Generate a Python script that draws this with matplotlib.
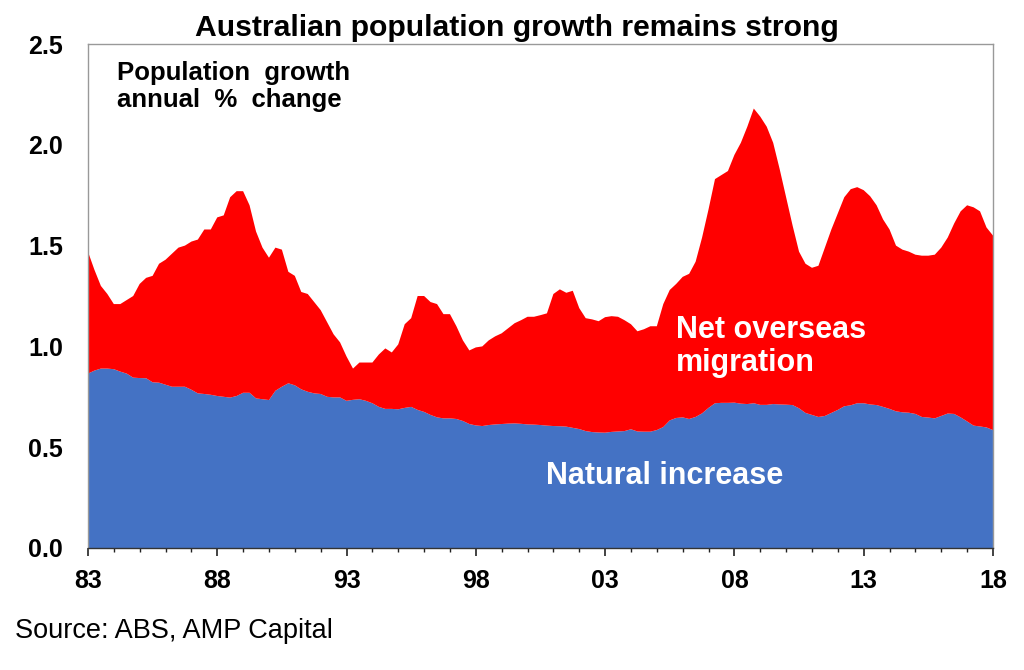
import numpy as np
import matplotlib
matplotlib.use("Agg")
import matplotlib.pyplot as plt
from matplotlib.ticker import MultipleLocator

plt.rcParams['font.family'] = ['Liberation Sans', 'DejaVu Sans']

# Quarterly data, 1983 Q1 to 2018 Q1, one row per year
total_growth = [
    1.47, 1.38, 1.30, 1.26,    # 83
    1.21, 1.21, 1.23, 1.25,    # 84
    1.31, 1.34, 1.35, 1.41,    # 85
    1.43, 1.46, 1.49, 1.50,    # 86
    1.52, 1.53, 1.58, 1.58,    # 87
    1.64, 1.65, 1.74, 1.77,    # 88
    1.77, 1.70, 1.57, 1.49,    # 89
    1.44, 1.49, 1.48, 1.37,    # 90
    1.35, 1.27, 1.26, 1.22,    # 91
    1.18, 1.12, 1.06, 1.02,    # 92
    0.95, 0.89, 0.92, 0.92,    # 93
    0.92, 0.96, 0.99, 0.97,    # 94
    1.01, 1.11, 1.14, 1.25,    # 95
    1.25, 1.22, 1.21, 1.16,    # 96
    1.16, 1.10, 1.03, 0.98,    # 97
    0.995, 1.00, 1.03, 1.05,   # 98
    1.065, 1.09, 1.115, 1.13,  # 99
    1.147, 1.147, 1.155, 1.164,  # 00
    1.26, 1.283, 1.266, 1.276,  # 01
    1.19, 1.14, 1.134, 1.125,  # 02
    1.145, 1.15, 1.147, 1.13,  # 03
    1.11, 1.075, 1.085, 1.10,  # 04
    1.10, 1.21, 1.28, 1.31,    # 05
    1.345, 1.36, 1.42, 1.54,   # 06
    1.68, 1.83, 1.85, 1.87,    # 07
    1.95, 2.01, 2.09, 2.18,    # 08
    2.14, 2.09, 2.01, 1.88,    # 09
    1.74, 1.60, 1.47, 1.41,    # 10
    1.39, 1.40, 1.49, 1.58,    # 11
    1.66, 1.74, 1.78, 1.79,    # 12
    1.775, 1.745, 1.70, 1.63,  # 13
    1.58, 1.50, 1.48, 1.47,    # 14
    1.455, 1.45, 1.45, 1.455,  # 15
    1.49, 1.54, 1.61, 1.67,    # 16
    1.70, 1.69, 1.67, 1.59,    # 17
    1.55,                      # 18
]

natural_increase = [
    0.865, 0.88, 0.89, 0.89,   # 83
    0.887, 0.875, 0.865, 0.845,  # 84
    0.843, 0.842, 0.822, 0.82,  # 85
    0.81, 0.80, 0.80, 0.80,    # 86
    0.785, 0.767, 0.764, 0.76,  # 87
    0.754, 0.75, 0.746, 0.754,  # 88
    0.77, 0.77, 0.742, 0.738,  # 89
    0.734, 0.78, 0.80, 0.817,  # 90
    0.807, 0.787, 0.775, 0.767,  # 91
    0.764, 0.75, 0.747, 0.747,  # 92
    0.73, 0.735, 0.738, 0.73,  # 93
    0.718, 0.70, 0.69, 0.69,   # 94
    0.688, 0.695, 0.70, 0.685,  # 95
    0.675, 0.66, 0.648, 0.643,  # 96
    0.643, 0.64, 0.63, 0.615,  # 97
    0.608, 0.605, 0.61, 0.613,  # 98
    0.615, 0.617, 0.618, 0.616,  # 99
    0.613, 0.612, 0.61, 0.607,  # 00
    0.605, 0.604, 0.602, 0.596,  # 01
    0.59, 0.58, 0.575, 0.573,  # 02
    0.572, 0.576, 0.578, 0.58,  # 03
    0.589, 0.578, 0.577, 0.577,  # 04
    0.585, 0.60, 0.633, 0.645,  # 05
    0.648, 0.64, 0.65, 0.668,  # 06
    0.695, 0.718, 0.72, 0.72,  # 07
    0.721, 0.716, 0.714, 0.718,  # 08
    0.71, 0.71, 0.714, 0.712,  # 09
    0.711, 0.709, 0.693, 0.67,  # 10
    0.66, 0.65, 0.655, 0.67,   # 11
    0.685, 0.703, 0.708, 0.718,  # 12
    0.718, 0.712, 0.709, 0.70,  # 13
    0.69, 0.678, 0.673, 0.671,  # 14
    0.665, 0.65, 0.647, 0.643,  # 15
    0.655, 0.667, 0.665, 0.648,  # 16
    0.628, 0.607, 0.603, 0.598,  # 17
    0.585,                     # 18
]

start_year = 1983
tick_years = [1983, 1988, 1993, 1998, 2003, 2008, 2013, 2018]
tick_labels = ['83', '88', '93', '98', '03', '08', '13', '18']

natural = np.array(natural_increase)
migration = np.array(total_growth) - natural
years = start_year + np.arange(len(natural)) / 4

fig = plt.figure(figsize=(10.24, 6.70), dpi=100)
ax = fig.add_axes([0.0859, 0.1821, 0.8838, 0.7522])

ax.stackplot(years, natural, migration, colors=['#4472C4', '#FF0000'], linewidth=0)

ax.set_xlim(1983, 2018)
ax.set_ylim(0, 2.5)
ax.set_xticks(tick_years)
ax.set_xticklabels(tick_labels)
ax.xaxis.set_minor_locator(MultipleLocator(1))
ax.yaxis.set_major_locator(MultipleLocator(0.5))
ax.yaxis.set_major_formatter(plt.FormatStrFormatter('%.1f'))

ax.tick_params(axis='x', which='major', direction='out', length=6, width=1.2,
               color='#222222', pad=9, labelsize=18)
ax.tick_params(axis='x', which='minor', direction='out', length=3, width=1,
               color='#222222')
ax.tick_params(axis='y', length=0, pad=18, labelsize=18)
for lab in ax.get_xticklabels() + ax.get_yticklabels():
    lab.set_fontweight('bold')

for side in ['left', 'top', 'right']:
    ax.spines[side].set_color('#999999')
    ax.spines[side].set_linewidth(1)
ax.spines['bottom'].set_color('#333333')
ax.spines['bottom'].set_linewidth(1)

fig.text(0.505, 0.947, 'Australian population growth remains strong',
         ha='center', va='baseline', fontsize=21.7, fontweight='bold')

ax.text(0.032, 0.9286, 'Population  growth', transform=ax.transAxes,
        ha='left', va='baseline', fontsize=18.5, fontweight='bold')
ax.text(0.032, 0.875, 'annual  %  change', transform=ax.transAxes,
        ha='left', va='baseline', fontsize=18.5, fontweight='bold')

ax.text(2005.74, 1.04, 'Net overseas', ha='left', va='baseline',
        fontsize=22, fontweight='bold', color='white')
ax.text(2005.74, 0.88, 'migration', ha='left', va='baseline',
        fontsize=22, fontweight='bold', color='white')
ax.text(2000.7, 0.317, 'Natural increase', ha='left', va='baseline',
        fontsize=22, fontweight='bold', color='white')

fig.text(0.015, 0.048, 'Source: ABS, AMP Capital', ha='left', va='baseline',
         fontsize=19.5)

fig.savefig('out.png', dpi=100)
